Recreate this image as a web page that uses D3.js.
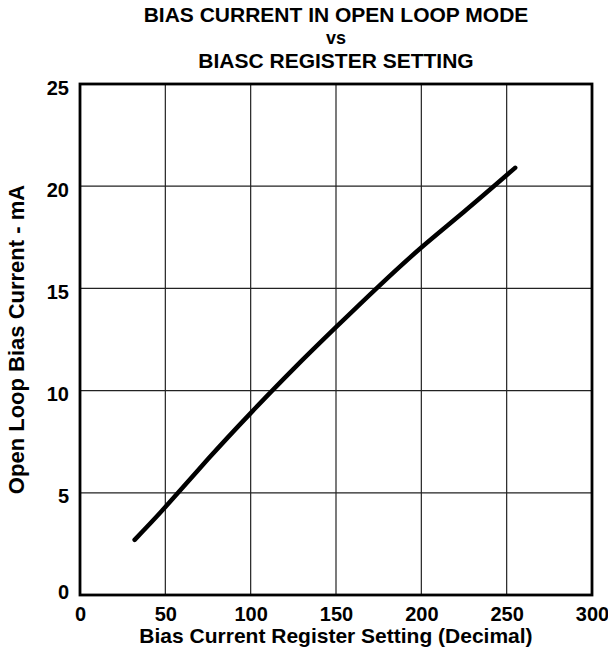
<!DOCTYPE html>
<html>
<head>
<meta charset="utf-8">
<script src="https://cdn.jsdelivr.net/npm/d3@7"></script>
<style>
  body { margin: 0; background: #fff; }
  text { font-family: "Liberation Sans", Arial, sans-serif; font-weight: bold; fill: #000; }
</style>
</head>
<body>
<div id="chart"></div>
<script>
// register setting (decimal) vs open loop bias current (mA)
const registerSetting = [32, 50, 75, 100, 125, 150, 175, 200, 225, 255];
const biasCurrent = [2.7, 4.3, 6.65, 8.9, 11.05, 13.1, 15.1, 17.0, 18.75, 20.9];

const xTicks = [0, 50, 100, 150, 200, 250, 300];
const yTicks = [0, 5, 10, 15, 20, 25];

const titleLines = ["BIAS CURRENT IN OPEN LOOP MODE", "vs", "BIASC REGISTER SETTING"];
const xLabel = "Bias Current Register Setting (Decimal)";
const yLabel = "Open Loop Bias Current - mA";

const W = 608, H = 660;
const margin = {top: 84, right: 16, bottom: 65, left: 80};
const width = W - margin.left - margin.right,
      height = H - margin.top - margin.bottom;

const svg = d3.select("#chart").append("svg")
  .attr("width", W)
  .attr("height", H);

// title, three lines ("vs" a bit smaller)
const titleY = [22, 44, 68];
const titleSize = [21, 18, 21];
svg.selectAll(".title")
  .data(titleLines)
  .enter().append("text")
  .attr("class", "title")
  .attr("x", margin.left + width / 2)
  .attr("y", (d, i) => titleY[i])
  .attr("text-anchor", "middle")
  .style("font-size", (d, i) => titleSize[i] + "px")
  .text(d => d);

const g = svg.append("g")
  .attr("transform", "translate(" + margin.left + "," + margin.top + ")");

const x = d3.scaleLinear().domain([0, 300]).range([0, width]);
const y = d3.scaleLinear().domain([0, 25]).range([height, 0]);

// grid
g.append("g")
  .selectAll("line")
  .data(xTicks.slice(1, -1))
  .enter().append("line")
  .attr("x1", d => x(d)).attr("x2", d => x(d))
  .attr("y1", 0).attr("y2", height)
  .style("stroke", "#222")
  .style("stroke-width", 1.2);

g.append("g")
  .selectAll("line")
  .data(yTicks.slice(1, -1))
  .enter().append("line")
  .attr("y1", d => y(d)).attr("y2", d => y(d))
  .attr("x1", 0).attr("x2", width)
  .style("stroke", "#222")
  .style("stroke-width", 1.2);

// axes, only used for the labels
const xAxis = g.append("g")
  .attr("transform", "translate(0," + height + ")")
  .call(d3.axisBottom(x).tickValues(xTicks).tickSize(0).tickPadding(0));
xAxis.select(".domain").remove();
xAxis.selectAll("text")
  .attr("dy", null)
  .attr("y", 26)
  .style("font-size", "20px");

const yAxis = g.append("g")
  .call(d3.axisLeft(y).tickValues(yTicks).tickSize(0).tickPadding(11));
yAxis.select(".domain").remove();
yAxis.selectAll("text")
  .attr("dy", d => d === 0 ? "3px" : "10px")
  .style("font-size", "20px");

// frame
g.append("rect")
  .attr("x", 0).attr("y", 0)
  .attr("width", width).attr("height", height)
  .style("fill", "none")
  .style("stroke", "#000")
  .style("stroke-width", 2.8);

// curve
const line = d3.line()
  .x((d, i) => x(registerSetting[i]))
  .y(d => y(d))
  .curve(d3.curveNatural);

g.append("path")
  .datum(biasCurrent)
  .attr("d", line)
  .style("fill", "none")
  .style("stroke", "#000")
  .style("stroke-width", 4.5)
  .style("stroke-linecap", "round");

// axis titles
svg.append("text")
  .attr("x", margin.left + width / 2)
  .attr("y", 643)
  .attr("text-anchor", "middle")
  .style("font-size", "21px")
  .text(xLabel);

svg.append("text")
  .attr("transform", "translate(24," + (margin.top + height / 2) + ") rotate(-90)")
  .attr("text-anchor", "middle")
  .style("font-size", "22px")
  .text(yLabel);
</script>
</body>
</html>
